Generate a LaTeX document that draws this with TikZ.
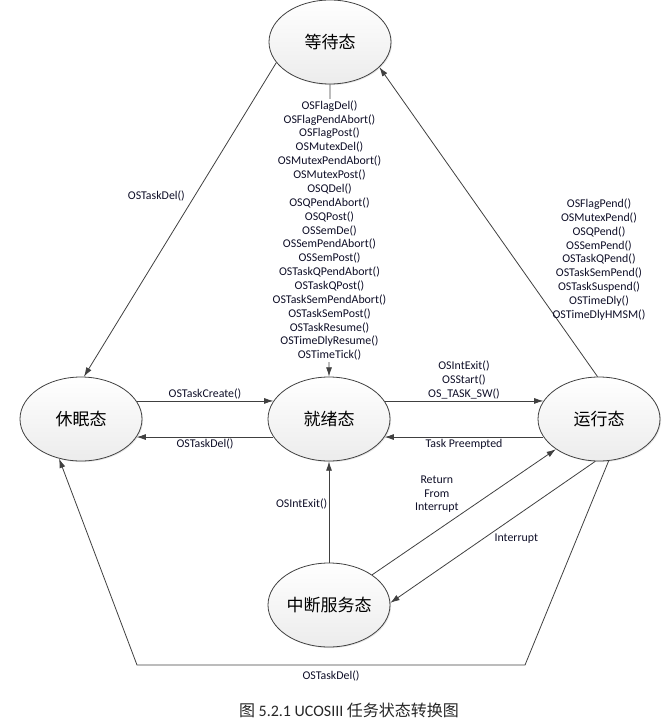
\documentclass[tikz,border=0pt]{standalone}
\usepackage{fontspec}
\setmainfont{Carlito}
\newfontfamily\cjk{Noto Sans CJK SC}
\usetikzlibrary{shapes,arrows.meta,shadows,calc,positioning}
\definecolor{edgegray}{RGB}{64,64,64}
\definecolor{labelink}{RGB}{15,15,40}

\begin{document}
\begin{tikzpicture}[x=0.75pt,y=-0.75pt,>={Latex[length=7pt,width=4.5pt]},
    state/.style={ellipse,draw=edgegray,line width=0.6pt,minimum width=91.5pt,minimum height=63pt,inner sep=0pt,
      top color=white,bottom color=gray!15,drop shadow={shadow xshift=0.8pt,shadow yshift=-0.8pt,opacity=0.2},
      font=\cjk\fontsize{12.75}{15}\selectfont},
    trans/.style={draw=edgegray,line width=0.6pt,->},
    lbl/.style={font=\fontsize{8.9}{10.4}\selectfont,text=labelink,align=center,inner sep=1pt}]
       \useasboundingbox (0,0) rectangle (670,724);
       \node[state] (wait) at (330,42) {等待态};
       \node[state] (dormant) at (81,419) {休眠态};
       \node[state] (ready) at (329,419) {就绪态};
       \node[state] (run) at (599,419) {运行态};
       \node[state] (isr) at (329,605) {中断服务态};
       \coordinate (br) at (525,665);
       \coordinate (bl) at (137,665);
       \draw[trans] (wait.201) -- (dormant.86) node[lbl,pos=0.425,left=6pt] {OSTaskDel()};
       \draw[trans] (run.92) -- (wait.333);
       \node[lbl,above=41pt of run] (pendlist) {OSFlagPend()\\OSMutexPend()\\OSQPend()\\OSSemPend()\\OSTaskQPend()\\OSTaskSemPend()\\OSTaskSuspend()\\OSTimeDly()\\OSTimeDlyHMSM()};
       \draw[trans] (wait.south) -- (ready.north) node[lbl,midway,fill=white] {OSFlagDel()\\OSFlagPendAbort()\\OSFlagPost()\\OSMutexDel()\\OSMutexPendAbort()\\OSMutexPost()\\OSQDel()\\OSQPendAbort()\\OSQPost()\\OSSemDe()\\OSSemPendAbort()\\OSSemPost()\\OSTaskQPendAbort()\\OSTaskQPost()\\OSTaskSemPendAbort()\\OSTaskSemPost()\\OSTaskResume()\\OSTimeDlyResume()\\OSTimeTick()};
       \draw[trans] (dormant.18) -- (ready.162) node[lbl,midway,above] {OSTaskCreate()};
       \draw[trans] (ready.198) -- (dormant.-18) node[lbl,midway,below] {OSTaskDel()};
       \draw[trans] (ready.18) -- (run.162) node[lbl,midway,above] {OSIntExit()\\OSStart()\\OS\_TASK\_SW()};
       \draw[trans] (run.198) -- (ready.-18) node[lbl,midway,below] {Task Preempted};
       \draw[trans] (isr.north) -- (ready.south) node[lbl,pos=0.58,left] {OSIntExit()};
       \draw[trans] (isr.35) -- (run.215) node[lbl,pos=0.48,above left] {Return\\From\\Interrupt};
       \draw[trans] (run.265) -- (isr.2) node[lbl,pos=0.5,anchor=north west] {Interrupt};
       \draw[trans] (run.283) -- (br) -- (bl) node[lbl,midway,below=3pt] {OSTaskDel()} -- (dormant.241);
       \node[font=\fontsize{12}{14}\selectfont,text=black!85] (caption) at (349,710) {{\cjk 图} 5.2.1 UCOSIII {\cjk 任务状态转换图}};
     \end{tikzpicture}
\end{document}
